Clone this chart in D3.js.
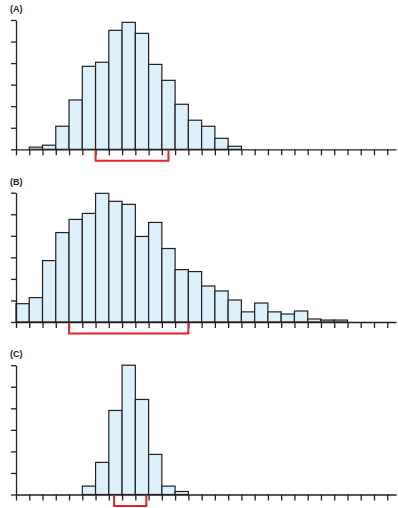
<!DOCTYPE html>
<html>
<head>
<meta charset="utf-8">
<script src="https://cdn.jsdelivr.net/npm/d3@7"></script>
<style>
  body { margin: 0; background: #fff; }
  svg { display: block; }
</style>
</head>
<body>
<div id="chart"></div>
<script>
// bin counts (in y-tick units), one value per bin starting at bin 0
const panelLabels = ["(A)", "(B)", "(C)"];
const countsA = [0, 0.1, 0.19, 1.07, 2.29, 3.85, 4.04, 5.52, 5.89, 5.38, 3.94, 3.2, 2.09, 1.35, 1.07, 0.51, 0.14];
const countsB = [0.85, 1.13, 2.85, 4.15, 4.76, 5.04, 5.97, 5.6, 5.46, 3.97, 4.62, 3.41, 2.43, 2.34, 1.67, 1.44, 1.02, 0.47, 0.88, 0.47, 0.37, 0.51, 0.14, 0.09, 0.09];
const countsC = [0, 0, 0, 0, 0, 0.39, 1.49, 3.9, 6.0, 4.41, 1.86, 0.39, 0.14];
// red range brackets [start, end] in bin units
const rangeA = [6, 11.5];
const rangeB = [4, 13];
const rangeC = [7.4, 9.83];
const yTicks = [0, 1, 2, 3, 4, 5, 6];
const xTicks = d3.range(29);

const width = 398, height = 508;
const ink = "#231f20";

const svg = d3.select("#chart").append("svg")
  .attr("width", width)
  .attr("height", height);

const x = d3.scaleLinear().domain([0, 28.66]).range([16, 396]);

const panels = [
  { label: panelLabels[0], counts: countsA, range: rangeA, top: 20 },
  { label: panelLabels[1], counts: countsB, range: rangeB, top: 192.7 },
  { label: panelLabels[2], counts: countsC, range: rangeC, top: 365.2 }
];

panels.forEach(p => {
  const base = p.top + 129.3;
  const y = d3.scaleLinear().domain([0, 6]).range([base, p.top]);
  const g = svg.append("g");

  g.append("text")
    .attr("x", 10)
    .attr("y", p.top - 8)
    .attr("font-family", "Liberation Sans, Arial, sans-serif")
    .attr("font-weight", "bold")
    .attr("font-size", 9)
    .attr("fill", ink)
    .text(p.label);

  const bins = p.counts.map((v, i) => ({ i, v })).filter(d => d.v > 0);

  g.append("g").selectAll("rect")
    .data(bins)
    .join("rect")
    .attr("x", d => x(d.i))
    .attr("y", d => y(d.v))
    .attr("width", d => x(d.i + 1) - x(d.i))
    .attr("height", d => y(0) - y(d.v))
    .attr("fill", "#dcf1fb")
    .attr("stroke", ink)
    .attr("stroke-width", 1.2);

  const xAxis = g.append("g")
    .attr("transform", `translate(0,${base})`)
    .call(d3.axisBottom(x).tickValues(xTicks).tickSize(6).tickSizeOuter(0).tickFormat(""));

  const yAxis = g.append("g")
    .attr("transform", `translate(${x(0)},0)`)
    .call(d3.axisLeft(y).tickValues(yTicks).tickSize(5).tickSizeOuter(0).tickFormat(""));

  [xAxis, yAxis].forEach(a => {
    a.selectAll("path, line").attr("stroke", ink).attr("stroke-width", 1.3);
  });

  const bx0 = x(p.range[0]), bx1 = x(p.range[1]);
  g.append("path")
    .attr("d", `M${bx0},${base + 1}V${base + 11.5}H${bx1}V${base + 1}`)
    .attr("fill", "none")
    .attr("stroke", "#e8202a")
    .attr("stroke-width", 2);
});
</script>
</body>
</html>
